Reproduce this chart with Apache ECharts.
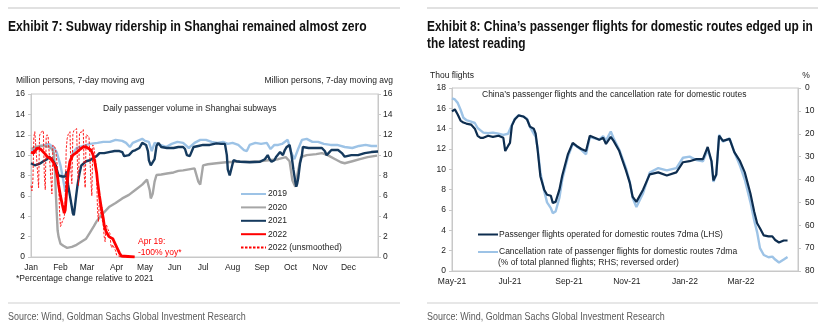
<!DOCTYPE html>
<html><head><meta charset="utf-8">
<script src="https://cdn.jsdelivr.net/npm/echarts@6/dist/echarts.min.js"></script>
<style>html,body{margin:0;padding:0;background:#fff;}#c{width:829px;height:334px;}</style>
</head><body><div id="c"></div>
<script>
// ---------- Exhibit 7 data (day of year, million persons) ----------
const monthStarts = [0,31,59,90,120,151,181,212,243,273,304,334];
const monthLabels = ['Jan','Feb','Mar','Apr','May','Jun','Jul','Aug','Sep','Oct','Nov','Dec'];
const leftTicks = [0,2,4,6,8,10,12,14,16];

const s2019 = [[0,10.4],[5,10.6],[10,10.9],[15,11.0],[19,11.1],[24,10.7],[27,10.3],[31,9.0],[33,8.0],[35,7.0],[36,6.4],[38,7.1],[41,9.4],[44,10.2],[48,10.7],[55,10.9],[62,11.1],[70,11.2],[76,11.3],[83,11.3],[89,11.5],[96,11.4],[100,11.2],[104,10.8],[107,11.2],[112,11.4],[117,11.6],[120,11.4],[124,11.3],[127,10.4],[130,11.2],[136,11.0],[142,10.8],[148,11.1],[154,11.3],[160,11.2],[166,10.7],[172,11.2],[178,11.5],[184,11.5],[190,11.3],[196,11.2],[202,11.3],[207,11.1],[212,11.2],[218,11.0],[224,10.5],[227,10.4],[230,11.0],[236,11.2],[242,11.1],[248,11.2],[252,10.6],[256,11.0],[260,11.0],[264,11.1],[270,11.5],[274,10.2],[277,9.6],[281,10.6],[285,11.5],[290,11.6],[296,11.3],[302,11.3],[308,11.1],[315,11.0],[322,11.0],[330,10.8],[338,10.7],[345,10.9],[352,11.0],[358,10.9],[364,10.9]];

const s2020 = [[0,10.6],[5,10.8],[10,10.9],[15,10.9],[19,10.8],[22,10.6],[24,10.2],[25,9.0],[26,6.5],[27,4.5],[28,2.6],[29,2.0],[31,1.3],[34,1.1],[38,0.9],[43,1.0],[48,1.2],[53,1.5],[58,1.8],[62,2.4],[66,3.0],[69,3.5],[73,4.0],[76,4.3],[82,4.9],[89,5.3],[96,5.75],[103,6.1],[110,6.6],[117,7.1],[122,7.6],[124,7.7],[125,6.5],[126,5.75],[128,6.2],[130,7.4],[132,8.05],[137,8.1],[143,8.2],[150,8.3],[155,8.45],[160,8.5],[166,8.6],[172,8.7],[174,8.6],[176,7.4],[178,7.1],[181,9.0],[186,9.1],[195,9.2],[205,9.3],[216,9.35],[230,9.35],[240,9.4],[250,9.5],[260,9.6],[268,9.8],[272,9.4],[275,7.5],[278,6.9],[281,8.5],[284,9.8],[290,10.0],[300,10.1],[306,10.2],[312,10.0],[320,9.6],[326,9.3],[330,9.2],[338,9.4],[346,9.6],[354,9.8],[364,9.95]];

const s2021 = [[0,9.2],[4,9.0],[6,8.9],[10,9.2],[13,9.4],[17,9.6],[19,9.85],[22,9.6],[24,9.5],[26,9.0],[28,8.3],[29,8.0],[33,7.9],[36,7.9],[37.5,8.4],[39,7.1],[41,6.0],[42.6,5.1],[44,4.3],[45,4.1],[46,4.8],[47.5,6.0],[49,7.1],[51,8.2],[53,9.0],[58,9.4],[62,9.5],[65,9.7],[69,9.9],[72,10.2],[77,10.2],[82,10.3],[88,10.4],[93,10.4],[96,10.3],[98,9.9],[100,9.85],[103,10.0],[107,10.4],[110,10.5],[114,10.7],[117,11.2],[119,11.3],[121,11.0],[123,10.4],[124,9.5],[126,9.0],[128,9.1],[130,9.6],[132,10.9],[134,11.2],[137,10.8],[143,10.7],[150,10.7],[155,10.8],[160,10.8],[162,10.6],[164,10.0],[167,9.9],[169,9.9],[171,10.8],[176,10.9],[181,11.0],[188,11.0],[195,11.15],[200,11.1],[204,11.1],[206,10.0],[207,8.6],[209,8.0],[211,8.0],[213,9.5],[216,9.4],[220,9.35],[230,9.3],[241,9.35],[246,9.6],[249,10.0],[251,9.6],[253,9.35],[256,9.5],[258,9.85],[262,10.3],[265,10.0],[267,10.5],[269,10.8],[272,11.0],[274,10.0],[276,8.6],[278,7.4],[279,6.9],[280,7.2],[281,7.7],[283,9.2],[285,10.0],[286,10.8],[292,10.7],[299,10.7],[306,10.7],[309,10.4],[311,10.0],[313,10.2],[316,10.5],[323,10.5],[327,10.2],[330,9.85],[337,10.0],[344,10.0],[351,10.2],[358,10.3],[365,10.35]];

const s2022 = [[0,10.3],[3,10.2],[5,10.5],[7,10.7],[10,10.6],[12,10.5],[15,10.1],[17,9.85],[20,9.7],[22,9.5],[24,9.2],[26,8.7],[28,7.8],[29,7.1],[31,6.0],[33,5.1],[35,4.3],[36,4.6],[37,5.8],[38,7.2],[39,8.3],[41,9.4],[44,10.0],[47,10.2],[49,10.3],[52,10.6],[55,10.8],[58,10.8],[60,10.8],[63,10.5],[65,10.1],[67,9.4],[69,8.3],[70,7.4],[72,6.0],[74,4.8],[76,3.8],[77,3.1],[79,2.5],[82,2.0],[84,1.95],[86,1.8],[88,1.4],[89,1.2],[91,0.8],[93,0.4],[95,0.1],[97,0],[109,0]];

// daily values from Jan 1 2022 (index = day of year)
const s2022raw = [7.0,6.5,7.5,11.8,12.3,12.2,12.4,8.2,6.8,11.9,12.2,12.1,12.2,12.4,8.0,6.6,11.8,12.0,11.8,11.7,11.9,7.6,6.2,11.0,11.0,10.8,10.5,10.4,8.5,7.5,4.5,3.0,3.2,3.5,3.7,3.9,5.5,10.5,11.6,12.0,12.1,12.3,8.4,7.2,12.0,12.4,12.3,12.4,12.6,8.5,7.0,12.2,12.3,12.2,12.3,12.5,8.0,6.8,12.0,12.1,12.0,11.8,11.9,7.5,6.0,11.0,10.8,10.2,9.5,8.0,4.5,3.5,6.0,4.5,4.0,3.6,3.2,2.0,1.5,3.2,3.0,2.7,2.5,2.3,1.2,0.9,1.2,1.0,0.8,0.6,0.2,0.1,0.05,0.05,0,0,0,0,0,0,0,0,0,0,0,0,0,0,0,0];

// ---------- Exhibit 8 data (days from 1 May 2021) ----------
const flightTickDays = [0,61,123,184,245,304];
const flightTickLabels = ['May-21','Jul-21','Sep-21','Nov-21','Jan-22','Mar-22'];
const flightDays =   [0,3,6,9,12,15,20,24,27,30,33,38,43,49,54,56,59,61,63,66,70,75,79,82,86,88,90,93,97,100,104,106,109,113,116,122,127,131,136,141,145,150,155,159,162,167,170,176,183,187,190,194,201,208,217,226,236,243,250,257,264,269,273,275,278,281,285,292,297,303,308,314,318,321,324,328,333,337,340,344,349,353];
const flightsOperated = [15.7,15.9,15.4,14.8,14.6,14.5,14.4,14.0,13.3,13.1,13.1,13.3,13.2,13.3,13.1,11.8,12.3,12.6,14.3,14.9,15.3,15.2,14.9,14.2,14.0,13.5,12.0,9.3,8.0,7.5,7.4,6.7,6.8,8.0,9.4,11.5,12.6,12.3,12.0,11.8,13.3,13.1,12.9,13.1,12.5,13.2,12.8,11.8,9.9,8.7,7.3,6.8,8.0,9.5,9.7,9.4,9.7,10.7,10.8,11.0,11.0,12.2,10.8,8.9,9.5,13.3,12.8,13.0,11.7,10.8,9.7,7.6,5.8,4.7,4.2,3.5,3.4,3.4,3.05,2.8,3.0,3.0];
const cancelRate = [4.5,5.0,6.5,9.5,13.0,14.0,14.7,15.3,17.5,18.5,19.5,19.8,19.5,20.0,20.5,20.5,20.0,18.0,16.2,13.5,12.0,12.5,13.5,17.0,20.0,21.3,26,37,45,50,52.5,54.7,54.0,48,40,30,24.5,25.5,27,29,21.5,22,22.5,21,23,19,22,27,35,41,48,52,46,37,35,36,35,30.5,30,31.5,32,27,32,41,38,20.5,23.5,22,28,34,40,50,58,63,70,73,74,73.7,75,76.3,75,73.9];
const rightTicksL = [0,2,4,6,8,10,12,14,16,18];
const rightTicksR = [0,10,20,30,40,50,60,70,80];

// ---------- styles ----------
const FONT = 'Liberation Sans, Arial, sans-serif';
const TXT = '#222';
const FRAME = '#c8c8c8';
const C19 = '#9dc3e6', C20 = '#a6a6a6', C21 = '#153a5e', C22 = '#ff0000';
const CDARK = '#0d2d4f', CLIGHT = '#9dc3e6';

const chart = echarts.init(document.getElementById('c'), null, {renderer:'canvas'});

function txt(x, y, text, opt) {
  opt = opt || {};
  return {type:'text', x:x, y:y, scaleX:opt.sx||1, silent:true, style:{text:text, fill:opt.fill||TXT,
    font:opt.font||('8.5px ' + FONT), textAlign:opt.align||'left', textVerticalAlign:'middle'}};
}
function hline(x1, x2, y, color) {
  return {type:'line', silent:true, shape:{x1:x1,y1:y,x2:x2,y2:y}, style:{stroke:color||'#c4c4c4', lineWidth:1.2}};
}

const axisLbl = {color:TXT, fontSize:8.5, fontFamily:FONT};
const TITLE_L = {font:'bold 14px ' + FONT, fill:'#111', sx:0.865};
const TITLE_R = {font:'bold 14px ' + FONT, fill:'#111', sx:0.85};
const SRC = {font:'10px ' + FONT, fill:'#5a5a5a', sx:0.895};

const option = {
  animation:false,
  grid:[
    {left:31, right:829-378, top:94, bottom:334-257, show:true, borderColor:FRAME, borderWidth:1},
    {left:452, right:829-798, top:88, bottom:334-271, show:true, borderColor:FRAME, borderWidth:1}
  ],
  xAxis:[
    {type:'value', gridIndex:0, min:0, max:365, splitLine:{show:false},
     axisLine:{lineStyle:{color:FRAME}}, axisTick:{show:false},
     axisLabel:Object.assign({}, axisLbl, {margin:6, customValues:monthStarts,
       formatter:function(v){ const i = monthStarts.indexOf(v); return i>=0?monthLabels[i]:''; }})},
    {type:'value', gridIndex:1, min:0, max:364, splitLine:{show:false},
     axisLine:{lineStyle:{color:FRAME}}, axisTick:{show:false},
     axisLabel:Object.assign({}, axisLbl, {margin:6, customValues:flightTickDays,
       formatter:function(v){ const i = flightTickDays.indexOf(v); return i>=0?flightTickLabels[i]:''; }})}
  ],
  yAxis:[
    {type:'value', gridIndex:0, min:0, max:16, interval:2, position:'left', splitLine:{show:false},
     axisLine:{show:true, lineStyle:{color:FRAME}}, axisTick:{show:true, length:3, lineStyle:{color:FRAME}},
     axisLabel:Object.assign({}, axisLbl, {margin:6})},
    {type:'value', gridIndex:0, min:0, max:16, interval:2, position:'right', splitLine:{show:false},
     axisLine:{show:true, lineStyle:{color:FRAME}}, axisTick:{show:true, length:3, lineStyle:{color:FRAME}},
     axisLabel:Object.assign({}, axisLbl, {margin:5})},
    {type:'value', gridIndex:1, min:0, max:18, interval:2, position:'left', splitLine:{show:false},
     axisLine:{show:true, lineStyle:{color:FRAME}}, axisTick:{show:true, length:3, lineStyle:{color:FRAME}},
     axisLabel:Object.assign({}, axisLbl, {margin:6})},
    {type:'value', gridIndex:1, min:0, max:80, interval:10, inverse:true, position:'right', splitLine:{show:false},
     axisLine:{show:true, lineStyle:{color:FRAME}}, axisTick:{show:true, length:3, lineStyle:{color:FRAME}},
     axisLabel:Object.assign({}, axisLbl, {margin:7})}
  ],
  legend:[
    {orient:'vertical', left:240, top:189, padding:0, itemWidth:25, itemHeight:8, itemGap:3.4,
     itemStyle:{opacity:0},
     textStyle:{color:TXT, fontSize:8.5, fontFamily:FONT, lineHeight:10, padding:[0,0,0,-3]},
     data:['2019','2020','2021','2022','2022 (unsmoothed)']},
    {orient:'vertical', left:477, top:229.5, padding:0, itemWidth:20, itemHeight:8, itemGap:7.5,
     itemStyle:{opacity:0},
     textStyle:{color:TXT, fontSize:8.5, fontFamily:FONT, lineHeight:10, padding:[0,0,0,-4]},
     data:['Passenger flights operated for domestic routes 7dma (LHS)','Cancellation rate of passenger flights for domestic routes 7dma']}
  ],
  series:[
    {name:'2019', type:'line', xAxisIndex:0, yAxisIndex:0, data:s2019, symbol:'none', lineStyle:{color:C19, width:2.4}, itemStyle:{color:C19}},
    {name:'2020', type:'line', xAxisIndex:0, yAxisIndex:0, data:s2020, symbol:'none', lineStyle:{color:C20, width:2.4}, itemStyle:{color:C20}},
    {name:'2021', type:'line', xAxisIndex:0, yAxisIndex:0, data:s2021, symbol:'none', lineStyle:{color:C21, width:2.4}, itemStyle:{color:C21}},
    {name:'2022 (unsmoothed)', type:'line', xAxisIndex:0, yAxisIndex:0, data:s2022raw.map(function(v,i){return [i,v];}), symbol:'none', lineStyle:{color:C22, width:0.9, type:[2.5,1.5]}, itemStyle:{color:C22}},
    {name:'2022', type:'line', xAxisIndex:0, yAxisIndex:0, data:s2022, symbol:'none', lineStyle:{color:C22, width:2.8}, itemStyle:{color:C22}},
    {name:'Cancellation rate of passenger flights for domestic routes 7dma', type:'line', xAxisIndex:1, yAxisIndex:3,
     data:flightDays.map(function(d,i){return [d, cancelRate[i]];}), symbol:'none', lineStyle:{color:CLIGHT, width:2.4}, itemStyle:{color:CLIGHT}},
    {name:'Passenger flights operated for domestic routes 7dma (LHS)', type:'line', xAxisIndex:1, yAxisIndex:2,
     data:flightDays.map(function(d,i){return [d, flightsOperated[i]];}), symbol:'none', lineStyle:{color:CDARK, width:2.2}, itemStyle:{color:CDARK}}
  ],
  graphic:[
    hline(8, 400, 8), hline(427, 818, 8),
    hline(8, 400, 303, '#d0d0d0'), hline(427, 818, 303, '#d0d0d0'),
    txt(8, 27, 'Exhibit 7: Subway ridership in Shanghai remained almost zero', TITLE_L),
    txt(427, 27, 'Exhibit 8: China\u2019s passenger flights for domestic routes edged up in', TITLE_R),
    txt(427, 44, 'the latest reading', TITLE_R),
    txt(16, 81, 'Million persons, 7-day moving avg'),
    txt(393, 81, 'Million persons, 7-day moving avg', {align:'right'}),
    txt(103, 109, 'Daily passenger volume in Shanghai subways'),
    txt(138, 242, 'Apr 19:', {fill:'#ff0000'}),
    txt(138, 252.5, '-100% yoy*', {fill:'#ff0000'}),
    txt(16, 279, '*Percentage change relative to 2021'),
    txt(8, 317, 'Source: Wind, Goldman Sachs Global Investment Research', SRC),
    txt(430, 76, 'Thou flights'),
    txt(806, 76, '%', {align:'center'}),
    txt(482, 95, 'China\u2019s passenger flights and the cancellation rate for domestic routes'),
    txt(498, 262.7, '(% of total planned flights; RHS; reversed order)'),
    txt(427, 317, 'Source: Wind, Goldman Sachs Global Investment Research', SRC)
  ]
};
chart.setOption(option);
</script>
</body></html>
